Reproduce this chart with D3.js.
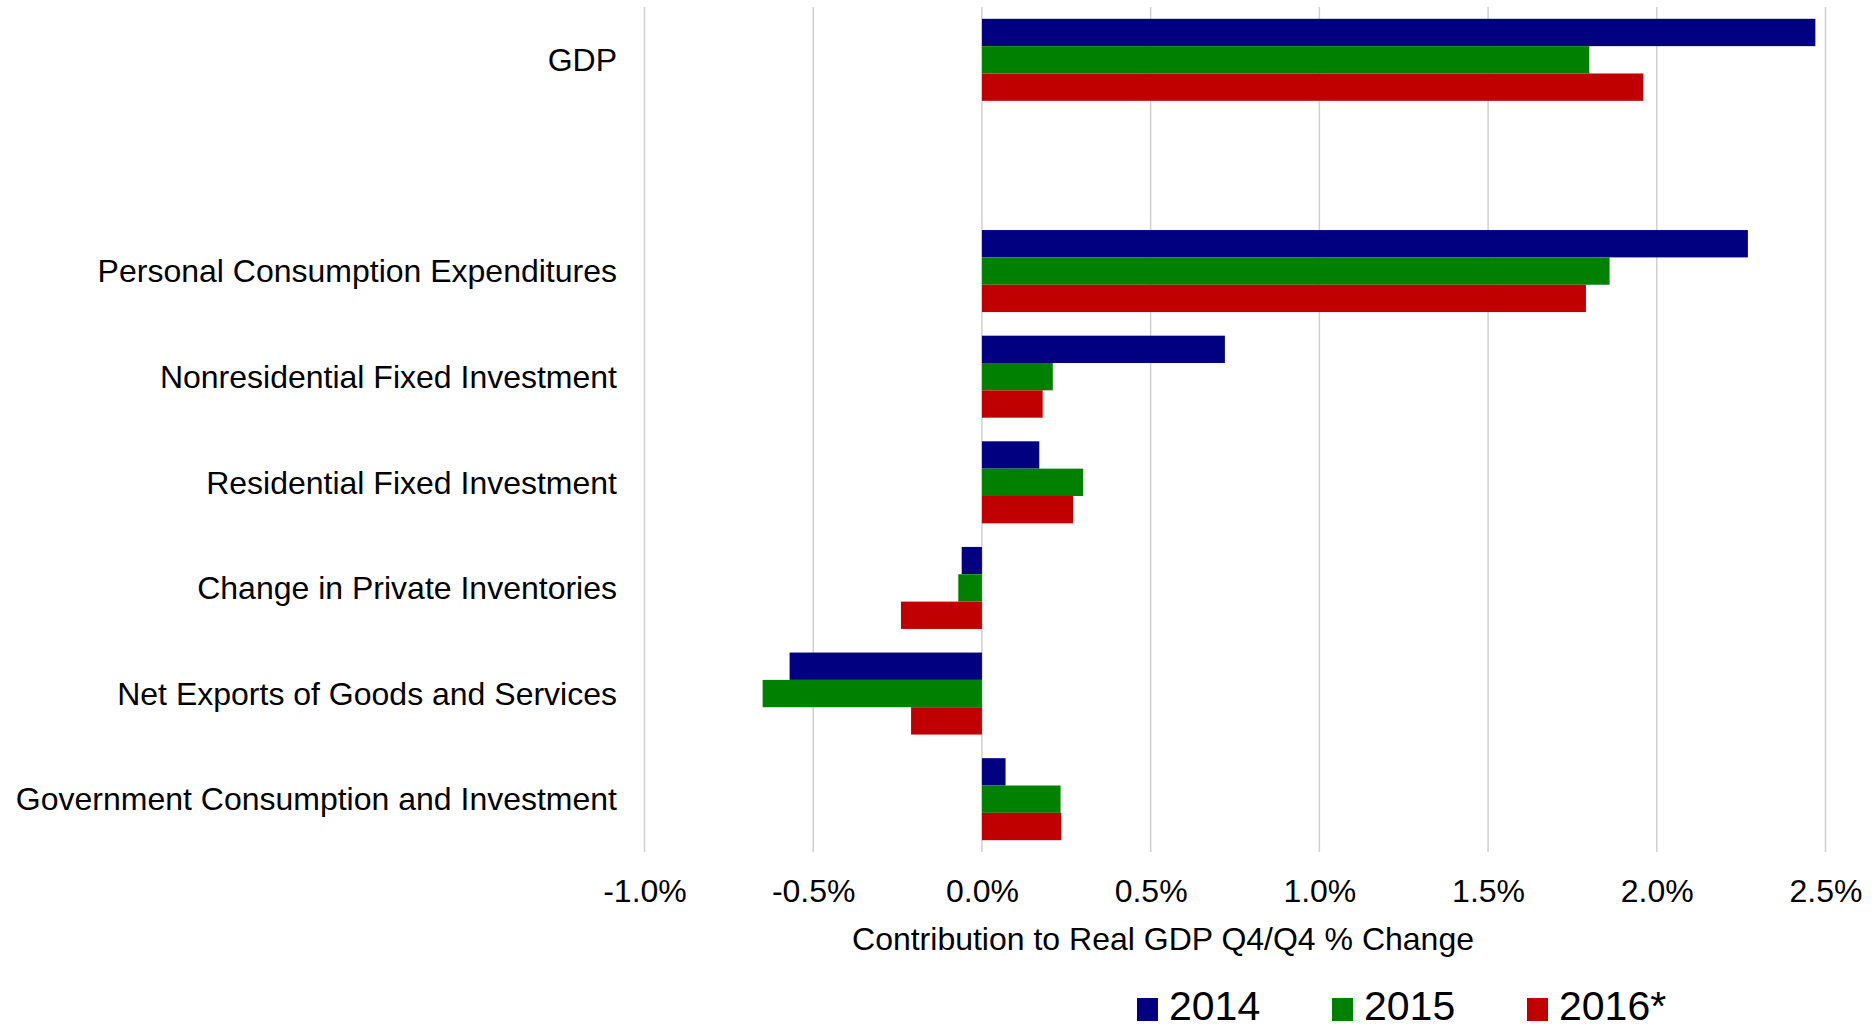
<!DOCTYPE html>
<html>
<head>
<meta charset="utf-8">
<script src="https://cdn.jsdelivr.net/npm/d3@7"></script>
<style>
  html, body { margin: 0; padding: 0; background: #ffffff; }
  svg { display: block; }
  text { font-family: "Liberation Sans", Arial, sans-serif; fill: #000000; }
</style>
</head>
<body>
<svg id="chart" width="1875" height="1029"></svg>
<script>
// Contributions to real GDP growth, Q4/Q4, percentage points
const categories = [
  "GDP",
  "",
  "Personal Consumption Expenditures",
  "Nonresidential Fixed Investment",
  "Residential Fixed Investment",
  "Change in Private Inventories",
  "Net Exports of Goods and Services",
  "Government Consumption and Investment"
];
const seriesNames = ["2014", "2015", "2016*"];
const values2014 = [2.47, null, 2.27, 0.72, 0.17, -0.06, -0.57, 0.07];
const values2015 = [1.80, null, 1.86, 0.21, 0.30, -0.07, -0.65, 0.233];
const values2016 = [1.96, null, 1.79, 0.18, 0.27, -0.24, -0.21, 0.235];
const seriesColors = ["#000080", "#008000", "#C00000"];
const xTicks = [-1.0, -0.5, 0.0, 0.5, 1.0, 1.5, 2.0, 2.5];
const axisTitle = "Contribution to Real GDP Q4/Q4 % Change";

const seriesValues = [values2014, values2015, values2016];

const svg = d3.select("#chart");

const plotTop = 7, plotBottom = 852;
const x = d3.scaleLinear().domain([-1.0, 2.5]).range([644.5, 1825.5]);

const y = d3.scaleBand()
  .domain(categories)
  .range([plotTop, plotBottom])
  .paddingInner(0.2235)
  .paddingOuter(0.11175);

const ySub = d3.scaleBand()
  .domain(seriesNames)
  .range([0, y.bandwidth()]);

// vertical gridlines
svg.append("g")
  .selectAll("line")
  .data(xTicks)
  .join("line")
  .attr("x1", d => x(d))
  .attr("x2", d => x(d))
  .attr("y1", plotTop)
  .attr("y2", plotBottom)
  .attr("stroke", "#d0d0d0")
  .attr("stroke-width", 1.5);

// bars
const rows = categories.map((c, i) => ({
  category: c,
  bars: seriesNames.map((s, j) => ({ series: s, value: seriesValues[j][i], color: seriesColors[j] }))
}));

svg.append("g")
  .selectAll("g")
  .data(rows.filter(r => r.category !== ""))
  .join("g")
  .attr("transform", d => `translate(0,${y(d.category)})`)
  .selectAll("rect")
  .data(d => d.bars.filter(b => b.value !== null))
  .join("rect")
  .attr("x", d => x(Math.min(0, d.value)))
  .attr("width", d => Math.abs(x(d.value) - x(0)))
  .attr("y", d => ySub(d.series))
  .attr("height", ySub.bandwidth())
  .attr("fill", d => d.color);

// category labels
svg.append("g")
  .selectAll("text")
  .data(categories.filter(c => c !== ""))
  .join("text")
  .attr("x", 617)
  .attr("y", d => y(d) + y.bandwidth() / 2)
  .attr("dy", "0.35em")
  .attr("text-anchor", "end")
  .style("font-size", "32px")
  .text(d => d);

// x axis tick labels (plain hyphen for negatives)
const pct = d => (d < 0 ? "-" : "") + Math.abs(d).toFixed(1) + "%";
const xAxis = d3.axisBottom(x)
  .tickValues(xTicks)
  .tickSize(0)
  .tickPadding(0)
  .tickFormat(pct);

const axisG = svg.append("g")
  .attr("transform", `translate(0,${plotBottom})`)
  .call(xAxis);
axisG.select(".domain").remove();
axisG.selectAll("text")
  .attr("y", 50)
  .attr("dy", 0)
  .style("font-size", "32px")
  .style("font-family", "'Liberation Sans', Arial, sans-serif")
  .attr("fill", "#000000");

// axis title
svg.append("text")
  .attr("x", 1163)
  .attr("y", 950)
  .attr("text-anchor", "middle")
  .style("font-size", "32px")
  .text(axisTitle);

// legend
const legendX = [1137, 1332, 1527];
const legend = svg.append("g")
  .selectAll("g")
  .data(seriesNames)
  .join("g")
  .attr("transform", (d, i) => `translate(${legendX[i]},0)`);

legend.append("rect")
  .attr("x", 0)
  .attr("y", 998)
  .attr("width", 21)
  .attr("height", 23)
  .attr("fill", (d, i) => seriesColors[i]);

legend.append("text")
  .attr("x", 32)
  .attr("y", 1020)
  .style("font-size", "41px")
  .text(d => d);
</script>
</body>
</html>
